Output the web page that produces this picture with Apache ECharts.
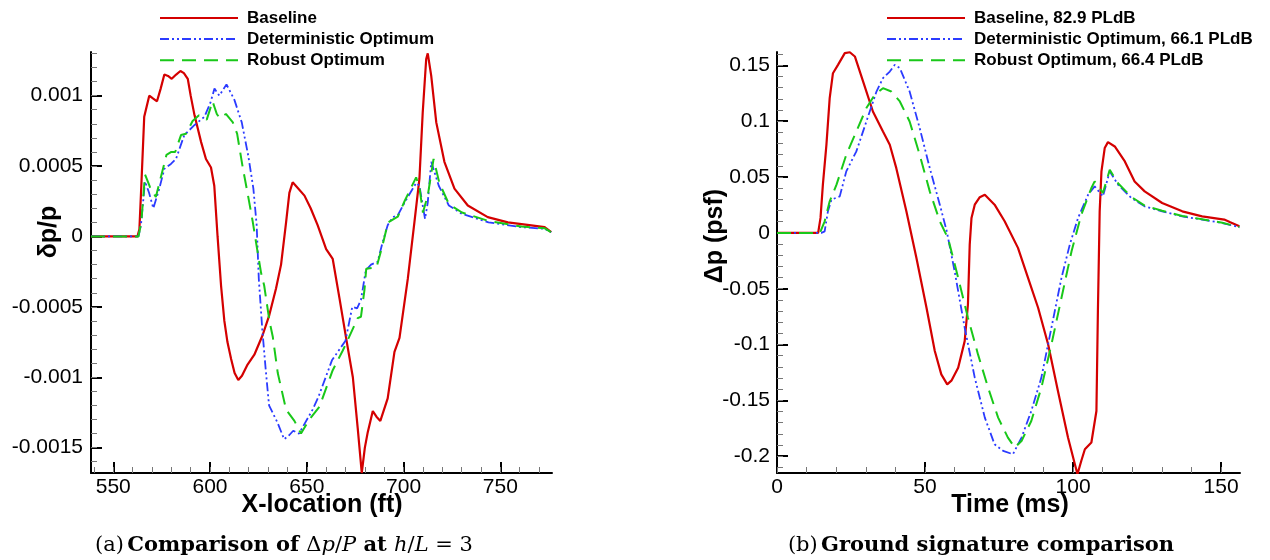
<!DOCTYPE html>
<html>
<head>
<meta charset="utf-8">
<script src="https://cdn.jsdelivr.net/npm/echarts@6/dist/echarts.min.js"></script>
<style>
  html, body { margin: 0; padding: 0; background: #fff; }
  #chart { width: 1270px; height: 560px; }
</style>
</head>
<body>
<div id="chart"></div>
<script>
// ---- (a) pressure disturbance at h/L = 3 : [x (ft), dp/p] ----
const nearBaseline = [
  [538.5,0],[562.5,0],[563.5,0.00005],[564.5,0.00036],[566,0.00085],[568.6,0.001],[570.5,0.00098],
  [572.6,0.00096],[574.5,0.00105],[576.4,0.00115],[578.3,0.00114],[580.2,0.00112],[582.5,0.00115],
  [584.7,0.001175],[586.5,0.00116],[588.5,0.00112],[590,0.001],[592,0.00086],[595.4,0.00067],
  [597.9,0.00055],[600.5,0.00049],[602.2,0.00036],[603.9,0],[605.7,-0.00035],[607.4,-0.0006],
  [609,-0.00075],[610.9,-0.00087],[612.7,-0.00097],[614.6,-0.00102],[616.5,-0.00099],[619.4,-0.00091],
  [622.9,-0.00084],[627.2,-0.0007],[630.6,-0.00056],[634.1,-0.00037],[636.7,-0.0002],[639.3,0.0001],
  [641,0.00031],[642.7,0.000385],[645,0.00035],[648.8,0.00029],[652,0.0002],[655.6,0.00008],
  [660,-0.00009],[663.4,-0.00016],[666.9,-0.00044],[670.3,-0.00072],[673.8,-0.001],[676.3,-0.00136],
  [678.4,-0.00168],[680,-0.0015],[681.5,-0.00139],[684.1,-0.00124],[686,-0.00128],[688,-0.00131],
  [691.8,-0.00115],[695.3,-0.00082],[697.9,-0.00072],[702.2,-0.0003],[705.6,0.0001],[708.2,0.00041],
  [709.9,0.00088],[711.7,0.00126],[712.5,0.0013],[714.3,0.00114],[716.9,0.00081],[721.1,0.00053],
  [726.3,0.00034],[733.2,0.00022],[743.5,0.000137],[753.9,0.0001],[765,0.00008],[772.9,0.000066],
  [776.3,0.00003]
];
const nearDeterministic = [
  [538.5,0],[563,0],[564.3,0.00008],[566.4,0.00039],[568.5,0.00031],[570.7,0.0002],[573.8,0.00034],
  [576.4,0.00048],[579.8,0.000515],[582.4,0.00055],[586.7,0.00072],[591.9,0.00079],[597.1,0.00085],
  [600.2,0.00095],[602.3,0.00105],[604.8,0.001],[608.5,0.00108],[612.6,0.00097],[616.4,0.00081],
  [619.8,0.00057],[622.4,0.00034],[624.1,0.00008],[625.2,-0.0003],[627,-0.00066],[628.8,-0.00095],
  [630.5,-0.0012],[634.8,-0.00132],[638.3,-0.00144],[641,-0.00141],[643,-0.00138],[646,-0.0014],
  [653,-0.00123],[656,-0.00114],[663,-0.00088],[670,-0.00074],[673.5,-0.0005],[676,-0.00051],
  [678,-0.00045],[680.5,-0.00024],[683.2,-0.0002],[686.6,-0.00018],[689.2,-0.00004],[691.8,0.00008],
  [694.4,0.000137],[697,0.00015],[700.5,0.00024],[706.5,0.00038],[708.2,0.00036],[709.9,0.00022],
  [711.1,0.000125],[712.5,0.00024],[714.3,0.00053],[715.2,0.00054],[718.2,0.00036],[723.4,0.00022],
  [730.2,0.00016],[743.9,0.0001],[761,0.000066],[773,0.000054],[776.3,0.00003]
];
const nearRobust = [
  [538.5,0],[563,0],[564.5,0.0001],[566.4,0.00044],[569,0.00035],[572,0.00028],[575.5,0.00047],
  [577.5,0.00058],[580,0.0006],[582,0.0006],[585,0.00072],[587.6,0.00073],[591,0.00082],[594.3,0.00086],
  [598.3,0.00083],[601.3,0.00096],[603.5,0.00087],[605,0.00084],[608.2,0.00087],[611.8,0.00081],
  [614,0.00073],[616.9,0.00049],[619.5,0.0003],[622,0.00011],[624.7,-0.00012],[626.4,-0.00026],
  [628,-0.00035],[630.7,-0.0006],[632.4,-0.00071],[635,-0.00097],[639.3,-0.00123],[643.6,-0.00131],
  [647,-0.0014],[651.3,-0.0013],[656.5,-0.00121],[663.4,-0.00095],[668.6,-0.00081],[672,-0.00071],
  [676.3,-0.00058],[678,-0.00057],[679.8,-0.00038],[680.7,-0.00023],[686,-0.00022],[689,-0.00007],
  [692,0.0001],[697,0.00014],[700.5,0.00025],[706.5,0.00042],[708.3,0.00034],[710,0.00017],
  [712.5,0.00029],[715.5,0.00055],[718.5,0.00038],[723.4,0.00023],[730.2,0.00017],[743.9,0.00011],
  [761,0.00007],[773,0.000058],[776.3,0.00003]
];

// ---- (b) ground signature : [time (ms), dp (psf)] ----
const groundBaseline = [
  [0,0],[13.9,0],[14.7,0.0134],[15.5,0.0432],[16.7,0.079],[17.8,0.1207],[18.9,0.143],[20.6,0.1505],
  [22.9,0.161],[24.6,0.1618],[26.3,0.158],[29.1,0.1355],[32.4,0.1087],[35.8,0.0908],[38.1,0.079],
  [40.3,0.058],[43.7,0.0193],[47.1,-0.0224],[50.5,-0.067],[53.3,-0.1058],[55.5,-0.1267],
  [57.5,-0.1356],[59,-0.132],[61.2,-0.1207],[63.4,-0.0969],[64.5,-0.0641],[65.1,-0.0105],
  [65.7,0.0134],[66.8,0.0253],[68.5,0.032],[70.2,0.0342],[73.5,0.0253],[76.9,0.0104],[81.4,-0.0134],
  [84.8,-0.0402],[88.2,-0.067],[91.6,-0.0999],[94.9,-0.1416],[98.3,-0.1833],[100.6,-0.207],
  [101.5,-0.216],[102.8,-0.204],[104,-0.1937],[106.2,-0.1877],[107.9,-0.1595],[108.4,-0.07],
  [109,0.0193],[109.6,0.0551],[110.7,0.076],[111.8,0.0813],[114.1,0.0774],[117.5,0.064],
  [120.8,0.0461],[124.2,0.0372],[130.1,0.0268],[136.9,0.0193],[143.6,0.0148],[151.1,0.0119],
  [153.1,0.0095],[156.2,0.0059]
];
const groundDeterministic = [
  [0,0],[15,0],[16.1,0.0014],[17.2,0.0193],[18.4,0.0298],[21.2,0.0327],[23.4,0.0551],[26.8,0.073],
  [30.2,0.0998],[33.6,0.1266],[35.8,0.1386],[38.1,0.1445],[39.8,0.1505],[41.5,0.1475],[44.8,0.1266],
  [48.2,0.0939],[51.6,0.0581],[55,0.0253],[57.3,0.002],[60,-0.0343],[63.4,-0.0849],[66.8,-0.1296],
  [70.2,-0.1654],[73.5,-0.1893],[76.4,-0.1952],[79.7,-0.1982],[82.6,-0.1833],[85.9,-0.1595],
  [89.3,-0.1296],[92.7,-0.0849],[96.1,-0.0402],[98.9,-0.0105],[101.7,0.0134],[105.1,0.0342],
  [107.3,0.0417],[110.1,0.0327],[112.4,0.0551],[115.2,0.0432],[119.7,0.0313],[124.2,0.0238],
  [130.1,0.0193],[136.9,0.0148],[143.6,0.0119],[150.4,0.0089],[156.2,0.005]
];
const groundRobust = [
  [0,0],[14.5,0],[16.1,0.0104],[17.8,0.0283],[20.1,0.0432],[23.4,0.07],[26.8,0.0908],[30.2,0.1118],
  [33,0.1236],[35.8,0.1296],[38.6,0.1266],[41.5,0.1177],[44.8,0.0998],[48.2,0.07],[51.6,0.0372],
  [55,0.0104],[57.8,-0.005],[61.2,-0.0402],[64.5,-0.076],[67.9,-0.1088],[71.3,-0.1386],
  [74.7,-0.1654],[78,-0.1833],[80.3,-0.1922],[82.6,-0.1863],[85.9,-0.1684],[89.3,-0.1386],
  [92.7,-0.0999],[96.1,-0.0581],[99.5,-0.0164],[102.8,0.0164],[106.2,0.0402],[107.3,0.0461],
  [110.1,0.0358],[112.4,0.0566],[115.2,0.0445],[119.7,0.0322],[124.2,0.0245],[130.1,0.0198],
  [136.9,0.0152],[143.6,0.0122],[150.4,0.0091],[156.2,0.0052]
];

// ---- tick labels ----
const nearXTicks = [550, 600, 650, 700, 750];
const nearYTicks = [-0.0015, -0.001, -0.0005, 0, 0.0005, 0.001];
const groundXTicks = [0, 50, 100, 150];
const groundYTicks = [-0.2, -0.15, -0.1, -0.05, 0, 0.05, 0.1, 0.15];

// minor tick positions (every 10 ft / 0.0001 / 10 ms / 0.01 psf)
function steps(from, to, step) {
  const out = [];
  for (let i = 0; from + i * step <= to + step * 1e-6; i++) {
    out.push(+(from + i * step).toPrecision(10));
  }
  return out;
}
const nearXMinor = steps(540, 770, 10);
const nearYMinor = steps(-0.0016, 0.0013, 0.0001);
const groundXMinor = steps(0, 150, 10);
const groundYMinor = steps(-0.21, 0.16, 0.01);

const FONT = 'Liberation Sans, Arial, sans-serif';
const SERIF = 'DejaVu Serif, serif';
const RED = '#d40000', BLUE = '#2b3bff', GREEN = '#19c819';

const chart = echarts.init(document.getElementById('chart'), null, { renderer: 'canvas' });

function fmt(v) {
  if (Math.abs(v) < 1e-12) return '0';
  return String(+v.toPrecision(6));
}

// one main axis with labels + major ticks, one hidden axis only for minor ticks
function mainAxis(gridIndex, pos, min, max, ticks, margin) {
  return {
    type: 'value', gridIndex: gridIndex, position: pos, min: min, max: max,
    axisLine: { show: true, onZero: false, lineStyle: { color: '#000', width: 2 } },
    axisTick: { show: true, inside: true, length: 11, customValues: ticks, lineStyle: { color: '#000', width: 2 } },
    axisLabel: { show: true, customValues: ticks, formatter: fmt, margin: margin,
                 color: '#000', fontFamily: FONT, fontSize: 21 },
    splitLine: { show: false }
  };
}
function minorAxis(gridIndex, pos, min, max, ticks) {
  return {
    type: 'value', gridIndex: gridIndex, position: pos, min: min, max: max,
    axisLine: { show: false, onZero: false },
    axisTick: { show: true, inside: true, length: 6, customValues: ticks, lineStyle: { color: '#777', width: 1 } },
    axisLabel: { show: false },
    splitLine: { show: false }
  };
}

function legendAt(left, names) {
  return {
    data: names, left: left, top: 4.5, orient: 'vertical',
    itemWidth: 78, itemHeight: 14, itemGap: 4.1,
    itemStyle: { opacity: 0 },
    textStyle: { fontFamily: FONT, fontSize: 17, fontWeight: 'bold', color: '#000', padding: [0, 0, 0, 4] }
  };
}

const capBase = { fontFamily: SERIF, fontSize: 21, fill: '#000', textFill: '#000', color: '#000' };

chart.setOption({
  backgroundColor: '#fff',
  animation: false,
  grid: [
    { left: 91, top: 52, width: 461, height: 421 },
    { left: 777, top: 52, width: 463, height: 421 }
  ],
  xAxis: [
    mainAxis(0, 'bottom', 538.5, 776.7, nearXTicks, 4),
    minorAxis(0, 'bottom', 538.5, 776.7, nearXMinor),
    mainAxis(1, 'bottom', 0, 156.4, groundXTicks, 4),
    minorAxis(1, 'bottom', 0, 156.4, groundXMinor)
  ],
  yAxis: [
    mainAxis(0, 'left', -0.00168, 0.00131, nearYTicks, 8),
    minorAxis(0, 'left', -0.00168, 0.00131, nearYMinor),
    mainAxis(1, 'left', -0.215, 0.162, groundYTicks, 7),
    minorAxis(1, 'left', -0.215, 0.162, groundYMinor)
  ],
  legend: [
    legendAt(154, ['Baseline', 'Deterministic Optimum', 'Robust Optimum']),
    legendAt(881, ['Baseline, 82.9 PLdB', 'Deterministic Optimum, 66.1 PLdB', 'Robust Optimum, 66.4 PLdB'])
  ],
  series: [
    { name: 'Baseline', type: 'line', xAxisIndex: 0, yAxisIndex: 0, data: nearBaseline,
      showSymbol: false, symbol: 'none', lineStyle: { color: RED, width: 2.2 }, itemStyle: { color: RED } },
    { name: 'Deterministic Optimum', type: 'line', xAxisIndex: 0, yAxisIndex: 0, data: nearDeterministic,
      showSymbol: false, symbol: 'none', lineStyle: { color: BLUE, width: 1.8, type: [9, 3, 2, 3, 2, 3] }, itemStyle: { color: BLUE } },
    { name: 'Robust Optimum', type: 'line', xAxisIndex: 0, yAxisIndex: 0, data: nearRobust,
      showSymbol: false, symbol: 'none', lineStyle: { color: GREEN, width: 2, type: [14, 8] }, itemStyle: { color: GREEN } },
    { name: 'Baseline, 82.9 PLdB', type: 'line', xAxisIndex: 2, yAxisIndex: 2, data: groundBaseline,
      showSymbol: false, symbol: 'none', lineStyle: { color: RED, width: 2.2 }, itemStyle: { color: RED } },
    { name: 'Deterministic Optimum, 66.1 PLdB', type: 'line', xAxisIndex: 2, yAxisIndex: 2, data: groundDeterministic,
      showSymbol: false, symbol: 'none', lineStyle: { color: BLUE, width: 1.8, type: [9, 3, 2, 3, 2, 3] }, itemStyle: { color: BLUE } },
    { name: 'Robust Optimum, 66.4 PLdB', type: 'line', xAxisIndex: 2, yAxisIndex: 2, data: groundRobust,
      showSymbol: false, symbol: 'none', lineStyle: { color: GREEN, width: 2, type: [14, 8] }, itemStyle: { color: GREEN } }
  ],
  graphic: [
    // axis titles
    { type: 'text', x: 322, y: 505, style: { text: 'X-location (ft)', font: 'bold 25px ' + FONT, fill: '#000', align: 'center', verticalAlign: 'middle' } },
    { type: 'text', x: 49, y: 232, rotation: Math.PI / 2, style: { text: 'δp/p', font: 'bold 25px ' + FONT, fill: '#000', align: 'center', verticalAlign: 'middle' } },
    { type: 'text', x: 1010, y: 505, style: { text: 'Time (ms)', font: 'bold 25px ' + FONT, fill: '#000', align: 'center', verticalAlign: 'middle' } },
    { type: 'text', x: 715, y: 236, rotation: Math.PI / 2, style: { text: 'Δp (psf)', font: 'bold 25px ' + FONT, fill: '#000', align: 'center', verticalAlign: 'middle' } },
    // captions
    { type: 'text', x: 284, y: 546, style: {
        text: '{n|(a)} {b|Comparison of }{n|Δ}{i|p}{n|/}{i|P}{b| at }{i|h}{n|/}{i|L}{n| = 3}',
        align: 'center', verticalAlign: 'middle',
        rich: {
          n: Object.assign({}, capBase),
          b: Object.assign({}, capBase, { fontWeight: 'bold' }),
          i: Object.assign({}, capBase, { fontStyle: 'italic' })
        } } },
    { type: 'text', x: 981, y: 546, style: {
        text: '{n|(b)} {b|Ground signature comparison}',
        align: 'center', verticalAlign: 'middle',
        rich: {
          n: Object.assign({}, capBase),
          b: Object.assign({}, capBase, { fontWeight: 'bold' })
        } } }
  ]
});
</script>
</body>
</html>
